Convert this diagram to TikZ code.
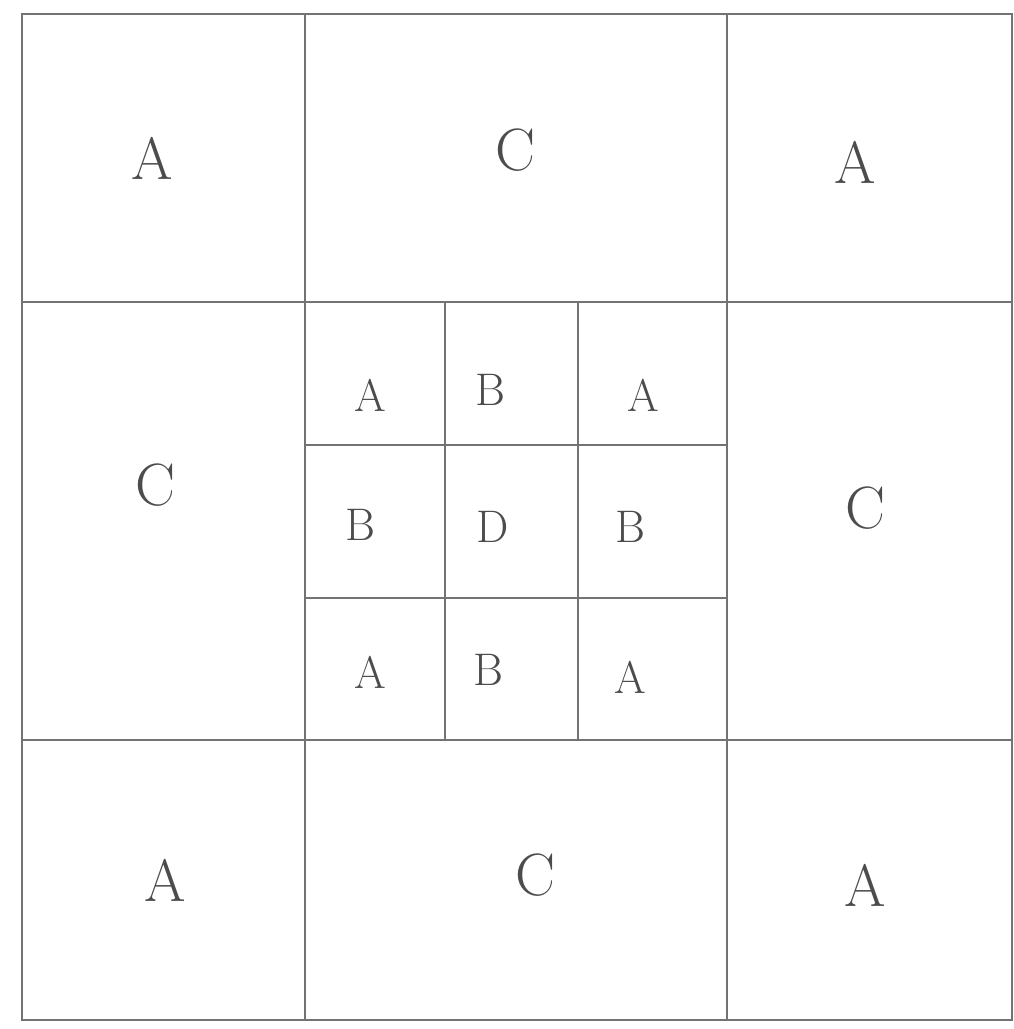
\documentclass[tikz,border=0pt]{standalone}
\usetikzlibrary{positioning}
\tikzset{
  gridline/.style={draw=black!55, line width=0.8pt},
  biglabel/.style={font=\fontsize{34}{40}\selectfont, text=black!70},
  smalllabel/.style={font=\fontsize{26}{30}\selectfont, text=black!70}
}
\begin{document}
\begin{tikzpicture}[x=0.02cm, y=-0.02cm]
\useasboundingbox (0,0) rectangle (1014,1029);
% outer frame and main divisions
\draw[gridline] (22,14) rectangle (1012,1020);
\draw[gridline] (305,14) -- (305,1020);
\draw[gridline] (727,14) -- (727,1020);
\draw[gridline] (22,302) -- (1012,302);
\draw[gridline] (22,740) -- (1012,740);
% inner grid
\draw[gridline] (445,302) -- (445,740);
\draw[gridline] (578,302) -- (578,740);
\draw[gridline] (305,445) -- (727,445);
\draw[gridline] (305,598) -- (727,598);
% outer cells
\node[biglabel] (tl) at (152,158) {A};
\node[biglabel] (tm) at (515,150) {C};
\node[biglabel] (tr) at (855,162) {A};
\node[biglabel] (ml) at (155,485) {C};
\node[biglabel] (mr) at (865,508) {C};
\node[biglabel] (bl) at (165,880) {A};
\node[biglabel] (bm) at (535,875) {C};
\node[biglabel] (br) at (865,885) {A};
% inner cells
\node[smalllabel] (a1) at (370,395) {A};
\node[smalllabel] (b1) at (490,390) {B};
\node[smalllabel] (a2) at (643,395) {A};
\node[smalllabel] (b2) at (360,525) {B};
\node[smalllabel] (d) at (493,527) {D};
\node[smalllabel] (b3) at (630,527) {B};
\node[smalllabel] (a3) at (370,672) {A};
\node[smalllabel] (b4) at (488,670) {B};
\node[smalllabel] (a4) at (630,677) {A};
\end{tikzpicture}
\end{document}
